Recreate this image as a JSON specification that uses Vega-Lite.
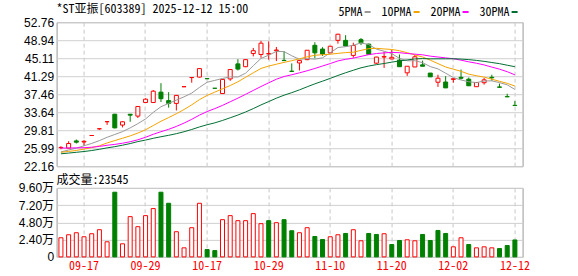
{
  "$schema": "https://vega.github.io/schema/vega-lite/v6.json",
  "autosize": {"type": "pad"},
  "padding": {"left": 17.6, "top": 2.2, "right": 0, "bottom": 0},
  "background": "white",
  "spacing": 21.7,
  "bounds": "flush",
  "config": {
    "view": {"stroke": "#999999", "strokeWidth": 1},
    "axis": {"title": null, "labelOverlap": false, "labelBound": false, "labelFlush": false},
    "title": {"font": "Noto Sans Mono CJK SC", "fontSize": 12, "fontWeight": "normal", "color": "#000000", "anchor": "start", "frame": "group"}
  },
  "datasets": {
    "k": [
      {"d": "2025-09-12", "o": 26.10, "h": 26.40, "l": 25.75, "c": 26.15, "v": 26600, "ma5": 25.2, "ma10": 25.1, "ma20": 26.00, "ma30": 24.80},
      {"d": "2025-09-15", "o": 25.99, "h": 27.47, "l": 25.99, "c": 26.98, "v": 30800, "ma5": 25.6, "ma10": 25.3, "ma20": 26.02, "ma30": 24.95},
      {"d": "2025-09-16", "o": 27.53, "h": 27.83, "l": 26.98, "c": 27.26, "v": 33600, "ma5": 26.0, "ma10": 25.5, "ma20": 26.05, "ma30": 25.11},
      {"d": "2025-09-17", "o": 27.30, "h": 27.70, "l": 26.50, "c": 27.45, "v": 28000, "ma5": 26.5, "ma10": 25.8, "ma20": 26.09, "ma30": 25.28},
      {"d": "2025-09-18", "o": 28.68, "h": 28.68, "l": 28.68, "c": 28.68, "v": 32200, "ma5": 27.0, "ma10": 26.1, "ma20": 26.19, "ma30": 25.49},
      {"d": "2025-09-19", "o": 30.11, "h": 30.11, "l": 29.90, "c": 30.11, "v": 37800, "ma5": 27.6, "ma10": 26.5, "ma20": 26.36, "ma30": 25.75},
      {"d": "2025-09-22", "o": 31.62, "h": 31.62, "l": 30.94, "c": 31.62, "v": 21000, "ma5": 28.3, "ma10": 27.1, "ma20": 26.61, "ma30": 26.05},
      {"d": "2025-09-23", "o": 33.20, "h": 33.30, "l": 30.20, "c": 30.30, "v": 90000, "ma5": 28.9, "ma10": 27.6, "ma20": 26.79, "ma30": 26.31},
      {"d": "2025-09-24", "o": 30.90, "h": 31.70, "l": 30.40, "c": 31.60, "v": 18200, "ma5": 29.5, "ma10": 28.1, "ma20": 27.04, "ma30": 26.62},
      {"d": "2025-09-25", "o": 33.20, "h": 33.20, "l": 31.60, "c": 33.00, "v": 56000, "ma5": 30.3, "ma10": 28.6, "ma20": 27.36, "ma30": 26.97},
      {"d": "2025-09-26", "o": 32.80, "h": 34.90, "l": 32.40, "c": 34.85, "v": 42000, "ma5": 31.2, "ma10": 29.2, "ma20": 27.77, "ma30": 27.39},
      {"d": "2025-09-29", "o": 35.70, "h": 36.60, "l": 35.70, "c": 36.40, "v": 57400, "ma5": 32.2, "ma10": 29.9, "ma20": 28.31, "ma30": 27.71},
      {"d": "2025-09-30", "o": 35.70, "h": 38.35, "l": 35.70, "c": 38.10, "v": 67200, "ma5": 33.6, "ma10": 30.8, "ma20": 28.94, "ma30": 28.09},
      {"d": "2025-10-09", "o": 37.90, "h": 39.80, "l": 35.80, "c": 36.50, "v": 90000, "ma5": 34.8, "ma10": 31.7, "ma20": 29.49, "ma30": 28.42},
      {"d": "2025-10-10", "o": 36.10, "h": 37.90, "l": 34.60, "c": 35.50, "v": 74600, "ma5": 35.5, "ma10": 32.5, "ma20": 30.00, "ma30": 28.72},
      {"d": "2025-10-13", "o": 35.50, "h": 37.30, "l": 34.00, "c": 37.20, "v": 35000, "ma5": 36.2, "ma10": 33.3, "ma20": 30.61, "ma30": 29.07},
      {"d": "2025-10-14", "o": 39.05, "h": 39.05, "l": 39.05, "c": 39.05, "v": 12600, "ma5": 36.9, "ma10": 34.2, "ma20": 31.32, "ma30": 29.48},
      {"d": "2025-10-15", "o": 41.00, "h": 41.00, "l": 39.90, "c": 41.00, "v": 40600, "ma5": 37.7, "ma10": 35.2, "ma20": 32.12, "ma30": 29.96},
      {"d": "2025-10-16", "o": 41.10, "h": 43.00, "l": 41.00, "c": 42.90, "v": 74600, "ma5": 38.9, "ma10": 36.3, "ma20": 33.01, "ma30": 30.50},
      {"d": "2025-10-17", "o": 40.76, "h": 40.76, "l": 40.76, "c": 40.76, "v": 10200, "ma5": 40.0, "ma10": 37.2, "ma20": 33.77, "ma30": 30.97},
      {"d": "2025-10-20", "o": 38.72, "h": 38.72, "l": 38.72, "c": 38.72, "v": 8800, "ma5": 40.4, "ma10": 37.9, "ma20": 34.40, "ma30": 31.37},
      {"d": "2025-10-21", "o": 37.60, "h": 40.65, "l": 37.50, "c": 40.60, "v": 51800, "ma5": 40.80, "ma10": 38.6, "ma20": 35.08, "ma30": 31.88},
      {"d": "2025-10-22", "o": 40.70, "h": 42.75, "l": 40.30, "c": 42.70, "v": 57400, "ma5": 41.14, "ma10": 39.3, "ma20": 35.85, "ma30": 32.45},
      {"d": "2025-10-23", "o": 43.90, "h": 44.90, "l": 42.50, "c": 42.80, "v": 50400, "ma5": 41.12, "ma10": 40.1, "ma20": 36.62, "ma30": 33.03},
      {"d": "2025-10-24", "o": 43.30, "h": 44.90, "l": 43.20, "c": 44.80, "v": 50400, "ma5": 41.92, "ma10": 41.05, "ma20": 37.43, "ma30": 33.68},
      {"d": "2025-10-27", "o": 46.10, "h": 47.30, "l": 45.50, "c": 46.70, "v": 60200, "ma5": 43.52, "ma10": 42.00, "ma20": 38.26, "ma30": 34.40},
      {"d": "2025-10-28", "o": 45.90, "h": 48.80, "l": 45.20, "c": 48.30, "v": 46200, "ma5": 45.06, "ma10": 42.93, "ma20": 39.09, "ma30": 35.18},
      {"d": "2025-10-29", "o": 46.00, "h": 48.70, "l": 44.80, "c": 46.10, "v": 50400, "ma5": 45.74, "ma10": 43.44, "ma20": 39.88, "ma30": 35.89},
      {"d": "2025-10-30", "o": 46.70, "h": 47.50, "l": 44.50, "c": 46.85, "v": 47600, "ma5": 46.55, "ma10": 43.83, "ma20": 40.64, "ma30": 36.61},
      {"d": "2025-10-31", "o": 44.65, "h": 46.60, "l": 44.55, "c": 44.60, "v": 51800, "ma5": 46.51, "ma10": 44.22, "ma20": 41.22, "ma30": 37.25},
      {"d": "2025-11-03", "o": 42.35, "h": 44.00, "l": 42.30, "c": 42.30, "v": 36400, "ma5": 45.63, "ma10": 44.58, "ma20": 41.59, "ma30": 37.79},
      {"d": "2025-11-04", "o": 44.10, "h": 44.70, "l": 42.50, "c": 44.60, "v": 33600, "ma5": 44.89, "ma10": 44.98, "ma20": 42.00, "ma30": 38.38},
      {"d": "2025-11-05", "o": 44.80, "h": 46.85, "l": 44.70, "c": 46.80, "v": 40600, "ma5": 45.03, "ma10": 45.39, "ma20": 42.44, "ma30": 39.03},
      {"d": "2025-11-06", "o": 47.85, "h": 48.50, "l": 45.10, "c": 46.25, "v": 28400, "ma5": 44.91, "ma10": 45.73, "ma20": 42.93, "ma30": 39.66},
      {"d": "2025-11-07", "o": 47.05, "h": 47.45, "l": 45.60, "c": 46.00, "v": 24200, "ma5": 45.19, "ma10": 45.85, "ma20": 43.45, "ma30": 40.23},
      {"d": "2025-11-10", "o": 46.25, "h": 47.70, "l": 46.20, "c": 47.65, "v": 28000, "ma5": 46.26, "ma10": 45.95, "ma20": 43.97, "ma30": 40.82},
      {"d": "2025-11-11", "o": 48.90, "h": 50.30, "l": 48.20, "c": 50.20, "v": 30800, "ma5": 47.38, "ma10": 46.14, "ma20": 44.53, "ma30": 41.44},
      {"d": "2025-11-12", "o": 48.90, "h": 50.00, "l": 47.60, "c": 47.70, "v": 32600, "ma5": 47.56, "ma10": 46.30, "ma20": 44.87, "ma30": 42.02},
      {"d": "2025-11-13", "o": 45.70, "h": 48.40, "l": 45.20, "c": 47.80, "v": 37800, "ma5": 47.87, "ma10": 46.39, "ma20": 45.12, "ma30": 42.55},
      {"d": "2025-11-14", "o": 49.05, "h": 49.40, "l": 47.90, "c": 48.40, "v": 22400, "ma5": 48.35, "ma10": 46.77, "ma20": 45.50, "ma30": 43.07},
      {"d": "2025-11-17", "o": 48.10, "h": 48.20, "l": 45.90, "c": 45.95, "v": 32600, "ma5": 48.01, "ma10": 47.14, "ma20": 45.86, "ma30": 43.44},
      {"d": "2025-11-18", "o": 44.05, "h": 45.40, "l": 43.90, "c": 45.35, "v": 31200, "ma5": 47.04, "ma10": 47.21, "ma20": 46.10, "ma30": 43.74},
      {"d": "2025-11-19", "o": 45.35, "h": 46.50, "l": 43.05, "c": 45.45, "v": 32200, "ma5": 46.59, "ma10": 47.08, "ma20": 46.24, "ma30": 43.98},
      {"d": "2025-11-20", "o": 44.95, "h": 46.95, "l": 44.90, "c": 45.30, "v": 17200, "ma5": 46.09, "ma10": 46.96, "ma20": 46.35, "ma30": 44.27},
      {"d": "2025-11-21", "o": 44.70, "h": 45.90, "l": 43.25, "c": 43.30, "v": 22800, "ma5": 45.07, "ma10": 46.70, "ma20": 46.28, "ma30": 44.53},
      {"d": "2025-11-24", "o": 42.00, "h": 43.45, "l": 41.35, "c": 43.40, "v": 23800, "ma5": 44.56, "ma10": 46.28, "ma20": 46.11, "ma30": 44.74},
      {"d": "2025-11-25", "o": 43.25, "h": 45.80, "l": 43.20, "c": 45.40, "v": 22400, "ma5": 44.57, "ma10": 45.80, "ma20": 45.97, "ma30": 44.95},
      {"d": "2025-11-26", "o": 43.70, "h": 44.60, "l": 43.40, "c": 43.40, "v": 31200, "ma5": 44.16, "ma10": 45.37, "ma20": 45.83, "ma30": 45.03},
      {"d": "2025-11-27", "o": 41.95, "h": 41.95, "l": 41.15, "c": 41.15, "v": 22800, "ma5": 43.33, "ma10": 44.70, "ma20": 45.55, "ma30": 44.97},
      {"d": "2025-11-28", "o": 40.00, "h": 41.60, "l": 39.00, "c": 40.85, "v": 36800, "ma5": 42.84, "ma10": 43.96, "ma20": 45.36, "ma30": 44.98},
      {"d": "2025-12-01", "o": 40.05, "h": 41.30, "l": 38.80, "c": 38.80, "v": 32600, "ma5": 41.92, "ma10": 43.24, "ma20": 45.18, "ma30": 44.98},
      {"d": "2025-12-02", "o": 40.60, "h": 40.90, "l": 39.90, "c": 40.75, "v": 14000, "ma5": 40.99, "ma10": 42.78, "ma20": 44.99, "ma30": 44.99},
      {"d": "2025-12-03", "o": 41.05, "h": 42.70, "l": 40.60, "c": 40.85, "v": 26600, "ma5": 40.48, "ma10": 42.32, "ma20": 44.69, "ma30": 44.92},
      {"d": "2025-12-04", "o": 40.65, "h": 41.00, "l": 39.20, "c": 39.25, "v": 17200, "ma5": 40.10, "ma10": 41.72, "ma20": 44.34, "ma30": 44.81},
      {"d": "2025-12-05", "o": 39.05, "h": 40.00, "l": 39.00, "c": 39.95, "v": 12600, "ma5": 39.92, "ma10": 41.38, "ma20": 44.04, "ma30": 44.64},
      {"d": "2025-12-08", "o": 39.90, "h": 40.90, "l": 39.50, "c": 40.50, "v": 14000, "ma5": 40.26, "ma10": 41.09, "ma20": 43.68, "ma30": 44.44},
      {"d": "2025-12-09", "o": 41.05, "h": 41.60, "l": 40.30, "c": 40.95, "v": 12600, "ma5": 40.30, "ma10": 40.65, "ma20": 43.22, "ma30": 44.19},
      {"d": "2025-12-10", "o": 39.00, "h": 39.70, "l": 38.90, "c": 38.93, "v": 11600, "ma5": 39.92, "ma10": 40.20, "ma20": 42.78, "ma30": 43.95},
      {"d": "2025-12-11", "o": 36.95, "h": 37.55, "l": 36.90, "c": 36.90, "v": 15800, "ma5": 39.45, "ma10": 39.77, "ma20": 42.24, "ma30": 43.62},
      {"d": "2025-12-12", "o": 35.10, "h": 36.00, "l": 35.05, "c": 35.05, "v": 23545, "ma5": 38.47, "ma10": 39.19, "ma20": 41.57, "ma30": 43.30}
    ]
  },
  "vconcat": [
    {
      "width": 466,
      "height": 144,
      "title": {"text": "*ST亚振[603389] 2025-12-12 15:00", "offset": -11.9, "baseline": "bottom"},
      "data": {"name": "k"},
      "transform": [
        {"window": [{"op": "lag", "field": "c", "param": 1, "as": "prev"}], "sort": [{"field": "d"}]},
        {"calculate": "datum.c > datum.o || (datum.c == datum.o && (datum.prev == null || datum.c >= datum.prev)) ? 'up' : 'down'", "as": "dir"}
      ],
      "encoding": {
        "x": {
          "field": "d", "type": "ordinal", "sort": null,
          "scale": {"paddingInner": 0.48, "paddingOuter": 0.52, "align": 0.29, "round": false},
          "axis": {"values": ["2025-09-17", "2025-09-29", "2025-10-17", "2025-10-29", "2025-11-10", "2025-11-20", "2025-12-02", "2025-12-12"], "labels": false, "ticks": false, "domain": false, "grid": true, "gridDash": [4, 3], "gridColor": "#c8c8c8", "bandPosition": 0.5}
        }
      },
      "layer": [
        {
          "mark": {"type": "rule", "strokeWidth": 1},
          "encoding": {
            "y": {"field": "l", "type": "quantitative", "scale": {"domain": [22.16, 52.76], "zero": false, "nice": false},
              "axis": {"values": [22.16, 25.99, 29.81, 33.64, 37.46, 41.29, 45.11, 48.94, 52.76], "tickCount": 20, "format": ".2f", "labelOverlap": false, "grid": true, "gridColor": "#d0d0d0", "domain": false, "ticks": false, "labelPadding": 3, "labelFont": "Liberation Sans", "labelFontSize": 12, "labelColor": "#000000"}},
            "y2": {"field": "h"},
            "stroke": {"condition": {"test": "datum.dir == 'up'", "value": "#ff0000"}, "value": "#008000"}
          }
        },
        {
          "mark": {"type": "bar", "strokeWidth": 1},
          "encoding": {
            "y": {"field": "o", "type": "quantitative"},
            "y2": {"field": "c"},
            "fill": {"condition": {"test": "datum.dir == 'up'", "value": "#ffffff"}, "value": "#008000"},
            "stroke": {"condition": {"test": "datum.dir == 'up'", "value": "#ff0000"}, "value": "#008000"}
          }
        },
        {
          "transform": [{"fold": ["ma5", "ma10", "ma20", "ma30"], "as": ["k", "val"]}],
          "mark": {"type": "line", "strokeWidth": 1},
          "encoding": {
            "y": {"field": "val", "type": "quantitative"},
            "color": {
              "field": "k", "type": "nominal",
              "scale": {"domain": ["ma5", "ma10", "ma20", "ma30"], "range": ["#999999", "#f5a300", "#ff00ff", "#006e32"]},
              "legend": {
                "orient": "none", "legendX": 282, "legendY": -16.2, "direction": "horizontal", "title": null,
                "symbolType": "stroke", "symbolSize": 36, "symbolStrokeWidth": 2,
                "labelFont": "Noto Sans Mono CJK SC", "labelFontSize": 12, "labelColor": "#000000",
                "columnPadding": 7,
                "labelExpr": "slice(datum.label, 2) + 'PMA'",
                "encode": {
                  "labels": {"update": {"x": {"value": 0}}},
                  "symbols": {"update": {"x": {"signal": "(length(datum.label) + 1) * 6 + 5"}}}
                }
              }
            }
          }
        }
      ]
    },
    {
      "width": 466,
      "height": 69,
      "title": {"text": "成交量:23545", "offset": -17, "baseline": "bottom"},
      "data": {"name": "k"},
      "transform": [
        {"window": [{"op": "lag", "field": "c", "param": 1, "as": "prev"}], "sort": [{"field": "d"}]},
        {"calculate": "datum.prev == null || datum.c >= datum.prev ? 'up' : 'down'", "as": "vdir"}
      ],
      "mark": {"type": "bar", "strokeWidth": 1},
      "encoding": {
        "x": {
          "field": "d", "type": "ordinal", "sort": null,
          "scale": {"paddingInner": 0.48, "paddingOuter": 0.52, "align": 0.29, "round": false},
          "axis": {"values": ["2025-09-17", "2025-09-29", "2025-10-17", "2025-10-29", "2025-11-10", "2025-11-20", "2025-12-02", "2025-12-12"], "labelExpr": "slice(datum.value, 5)", "labelAngle": 0, "labelColor": "#ff0000", "labelFont": "Noto Sans Mono CJK SC", "labelFontSize": 12, "labelPadding": 4, "ticks": false, "domain": false, "grid": true, "gridDash": [4, 3], "gridColor": "#c8c8c8", "bandPosition": 0.5}
        },
        "y": {
          "field": "v", "type": "quantitative",
          "scale": {"domain": [0, 96000], "nice": false},
          "axis": {"values": [1, 24000, 48000, 72000, 96000], "tickCount": 20, "labelOverlap": false, "labelExpr": "datum.value < 100 ? '0' : format(datum.value / 10000, '.2f') + '万'", "grid": true, "gridColor": "#d0d0d0", "domain": false, "ticks": false, "labelPadding": 3, "labelFont": "Liberation Sans, Noto Sans CJK SC", "labelFontSize": 12, "labelColor": "#000000"}
        },
        "fill": {"condition": {"test": "datum.vdir == 'up'", "value": "#ffffff"}, "value": "#008000"},
        "stroke": {"condition": {"test": "datum.vdir == 'up'", "value": "#ff0000"}, "value": "#008000"}
      }
    }
  ]
}
